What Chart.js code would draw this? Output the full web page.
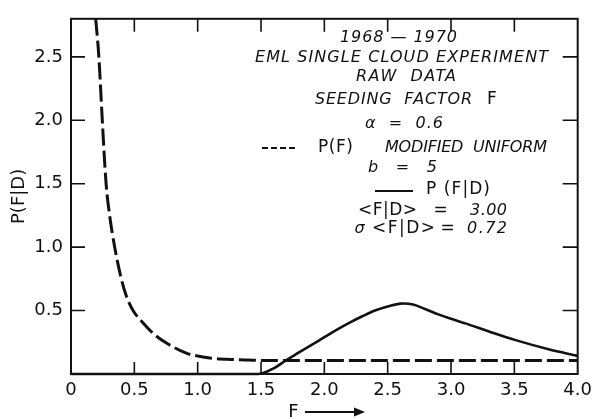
<!DOCTYPE html>
<html><head><meta charset="utf-8">
<script src="https://cdn.jsdelivr.net/npm/chart.js@4.4.1/dist/chart.umd.min.js"></script>
<style>html,body{margin:0;padding:0;background:#fff;}canvas{display:block;}</style>
</head><body>
<canvas id="c" width="598" height="419"></canvas>
<script>
// ---- data ----
const xTickValues = [0, 0.5, 1, 1.5, 2, 2.5, 3, 3.5, 4];
const xTickLabels = ['0', '0.5', '1.0', '1.5', '2.0', '2.5', '3.0', '3.5', '4.0'];
const yTickValues = [0.5, 1, 1.5, 2, 2.5];
const yTickLabels = ['0.5', '1.0', '1.5', '2.0', '2.5'];

// P(F) modified uniform (dashed)
const priorF = [0.195, 0.22, 0.247, 0.277, 0.305, 0.345, 0.395, 0.435, 0.49, 0.575, 0.66, 0.76, 0.91, 1.0, 1.11, 1.25, 1.40, 1.6, 2.5, 4.0];
const priorP = [2.8, 2.5, 2.0, 1.5, 1.25, 1.0, 0.76, 0.62, 0.5, 0.397, 0.31, 0.24, 0.164, 0.142, 0.125, 0.115, 0.11, 0.106, 0.106, 0.106];

// P(F|D) (solid)
const postF = [0, 1.48, 1.6, 1.7, 1.8, 1.9, 2.0, 2.1, 2.2, 2.3, 2.4, 2.5, 2.6, 2.7, 2.8, 2.9, 3.0, 3.12, 3.3, 3.51, 3.77, 4.0];
const postP = [0, 0, 0.045, 0.11, 0.17, 0.23, 0.29, 0.35, 0.405, 0.455, 0.5, 0.532, 0.555, 0.548, 0.51, 0.47, 0.435, 0.397, 0.335, 0.267, 0.195, 0.143];

const FONT = '"DejaVu Sans", "Liberation Sans", sans-serif';
const INK = '#111';

const notes = [
  {t: '1968 — 1970', x0: 340, x1: 457, y: 38, i: true},
  {t: 'EML SINGLE CLOUD EXPERIMENT', x0: 255, x1: 548, y: 58, i: true},
  {t: 'RAW  DATA', x0: 356, x1: 456, y: 77, i: true},
  {t: 'SEEDING  FACTOR', x0: 315, x1: 472, y: 100, i: true},
  {t: 'F', x0: 487, x1: 497, y: 100, i: false},
  {t: 'α  =  0.6', x0: 365, x1: 443, y: 124, i: true},
  {t: 'P(F)', x0: 318, x1: 353, y: 148, i: false},
  {t: 'MODIFIED  UNIFORM', x0: 385, x1: 547, y: 148, i: true},
  {t: 'b  =  5', x0: 368, x1: 437, y: 168, i: true},
  {t: 'P (F|D)', x0: 426, x1: 490, y: 190, i: false},
  {t: '<F|D>', x0: 358, x1: 417, y: 211, i: false},
  {t: '=', x0: 437, x1: 444, y: 211, i: false},
  {t: '3.00', x0: 470, x1: 507, y: 211, i: true},
  {t: 'σ', x0: 354, x1: 365, y: 229, i: true},
  {t: '<F|D>', x0: 372, x1: 435, y: 229, i: false},
  {t: '=', x0: 444, x1: 451, y: 229, i: false},
  {t: '0.72', x0: 467, x1: 507, y: 229, i: true}
];

function drawFit(ctx, n) {
  ctx.font = (n.i ? 'italic 16px ' : '17px ') + FONT;
  ctx.letterSpacing = '0px';
  ctx.textBaseline = 'middle';
  const chars = [...n.t];
  if (chars.length === 1) {
    ctx.textAlign = 'center';
    ctx.fillText(n.t, (n.x0 + n.x1) / 2, n.y);
    return;
  }
  const w = ctx.measureText(n.t).width;
  const ls = (n.x1 - n.x0 - w) / (chars.length - 1);
  ctx.letterSpacing = ls + 'px';
  ctx.textAlign = 'left';
  ctx.fillText(n.t, n.x0, n.y);
  ctx.letterSpacing = '0px';
}

const framePlugin = {
  id: 'frame',
  afterDatasetsDraw(chart) {
    const ctx = chart.ctx;
    const a = chart.chartArea;
    const xs = chart.scales.x, ys = chart.scales.y;
    ctx.save();
    ctx.strokeStyle = INK;
    ctx.lineWidth = 2;
    ctx.strokeRect(a.left, a.top, a.right - a.left, a.bottom - a.top);
    ctx.lineWidth = 1.6;
    ctx.beginPath();
    xs.ticks.forEach(t => {
      if (t.value <= 0 || t.value >= 4) return;
      const px = xs.getPixelForValue(t.value);
      ctx.moveTo(px, a.bottom); ctx.lineTo(px, a.bottom - 12);
      ctx.moveTo(px, a.top); ctx.lineTo(px, a.top + 13);
    });
    ys.ticks.forEach(t => {
      if (t.value <= 0) return;
      const py = ys.getPixelForValue(t.value);
      ctx.moveTo(a.left, py); ctx.lineTo(a.left + 14, py);
      ctx.moveTo(a.right, py); ctx.lineTo(a.right - 15, py);
    });
    ctx.stroke();

    // annotation text
    ctx.fillStyle = INK;
    notes.forEach(n => drawFit(ctx, n));

    // legend samples
    ctx.lineWidth = 2;
    ctx.setLineDash([6, 3]);
    ctx.beginPath(); ctx.moveTo(262, 148); ctx.lineTo(298, 148); ctx.stroke();
    ctx.setLineDash([]);
    ctx.beginPath(); ctx.moveTo(375, 191); ctx.lineTo(413, 191); ctx.stroke();

    // x-axis title with arrow
    ctx.font = '18px ' + FONT;
    ctx.textAlign = 'center'; ctx.textBaseline = 'middle';
    ctx.fillText('F', 293.5, 412);
    ctx.lineWidth = 2;
    ctx.beginPath(); ctx.moveTo(305, 412); ctx.lineTo(356, 412); ctx.stroke();
    ctx.beginPath(); ctx.moveTo(365, 412); ctx.lineTo(354, 407.5); ctx.lineTo(354, 416.5); ctx.closePath(); ctx.fill();
    ctx.restore();
  }
};

new Chart(document.getElementById('c'), {
  type: 'line',
  data: {
    datasets: [
      {
        label: 'P(F) modified uniform',
        data: priorF.map((f, i) => ({x: f, y: priorP[i]})),
        borderColor: INK, borderWidth: 3, borderDash: [17, 5],
        pointRadius: 0, fill: false, cubicInterpolationMode: 'monotone', clip: false
      },
      {
        label: 'P(F|D)',
        data: postF.map((f, i) => ({x: f, y: postP[i]})),
        borderColor: INK, borderWidth: 2.6,
        pointRadius: 0, fill: false, tension: 0.35, clip: false
      }
    ]
  },
  options: {
    responsive: false,
    animation: false,
    devicePixelRatio: 1,
    layout: {padding: {left: 0, top: 14, right: 15, bottom: 0}},
    plugins: {legend: {display: false}, tooltip: {enabled: false}, title: {display: false}},
    scales: {
      x: {
        type: 'linear', min: 0, max: 4,
        afterBuildTicks: s => { s.ticks = xTickValues.map(v => ({value: v})); },
        afterFit: s => { s.height = 45; },
        grid: {display: false, drawTicks: false},
        border: {display: false},
        ticks: {
          color: INK, padding: 6, maxRotation: 0, autoSkip: false,
          font: {family: FONT, size: 18},
          callback: (v) => { const k = xTickValues.indexOf(v); return k >= 0 ? xTickLabels[k] : ''; }
        }
      },
      y: {
        type: 'linear', min: 0, max: 2.8,
        afterBuildTicks: s => { s.ticks = yTickValues.map(v => ({value: v})); },
        afterFit: s => { s.width = 71; },
        grid: {display: false, drawTicks: false},
        border: {display: false},
        title: {display: true, text: 'P(F|D)', color: INK, font: {family: FONT, size: 18}, padding: {top: 9, bottom: 0}},
        ticks: {
          color: INK, padding: 8, autoSkip: false,
          font: {family: FONT, size: 18},
          callback: (v) => { const k = yTickValues.indexOf(v); return k >= 0 ? yTickLabels[k] : ''; }
        }
      }
    }
  },
  plugins: [framePlugin]
});
</script>
</body></html>
